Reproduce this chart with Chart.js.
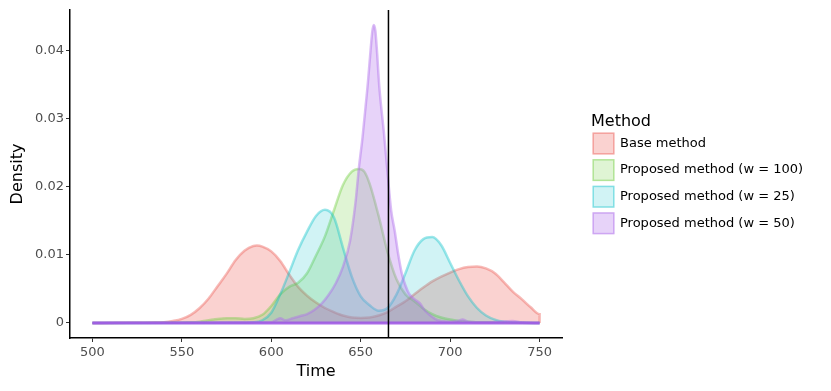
<!DOCTYPE html>
<html>
<head>
<meta charset="utf-8">
<script src="https://cdn.jsdelivr.net/npm/chart.js@4/dist/chart.umd.min.js"></script>
<style>
html,body{margin:0;padding:0;background:#fff;}
#wrap{width:831px;height:391px;}
</style>
</head>
<body>
<div id="wrap"><canvas id="c" width="831" height="391"></canvas></div>
<script>
// ---- data ----
const seriesNames = ['Base method', 'Proposed method (w = 100)', 'Proposed method (w = 25)', 'Proposed method (w = 50)'];

const baseTime = [500,520,535,540,545,550,555,560,565,570,575,580,585,590,592,595,600,605,610,615,620,625,630,635,640,645,650,655,660,665,670,675,680,685,690,695,700,705,710,715,720,725,730,735,740,745,750,750];
const baseDensity = [0,0.00002,0.00006,0.00012,0.0003,0.0006,0.0012,0.0022,0.0036,0.0054,0.0072,0.0092,0.0106,0.0113,0.01135,0.0112,0.0105,0.0091,0.0071,0.0053,0.0040,0.0030,0.0022,0.0016,0.0011,0.0008,0.00075,0.0008,0.0011,0.0016,0.0024,0.0032,0.0042,0.0052,0.0061,0.0068,0.0074,0.0079,0.0082,0.0083,0.0080,0.0073,0.0060,0.0046,0.0035,0.0023,0.0013,0];

const w100Time = [500,540,555,560,565,570,575,580,585,590,595,600,605,610,615,620,625,630,635,640,645,649,652,655,660,665,670,675,680,685,690,695,700,705,710,720,750,750];
const w100Density = [0,0.00002,0.0001,0.0002,0.0004,0.0006,0.0007,0.0007,0.0006,0.0007,0.0012,0.0025,0.0042,0.0053,0.0059,0.0073,0.0099,0.0127,0.0165,0.0202,0.0222,0.0226,0.0222,0.0204,0.0157,0.0104,0.0064,0.0042,0.0032,0.0021,0.0013,0.0008,0.0005,0.0003,0.0002,0.0001,0,0];

const w25Time = [500,580,590,595,600,605,610,615,620,625,630,635,640,645,650,655,660,665,670,675,680,685,690,695,700,705,710,715,720,725,730,740,750,750];
const w25Density = [0,0.00002,0.0001,0.0004,0.0015,0.0042,0.0074,0.0107,0.0134,0.0157,0.0166,0.0155,0.0111,0.0068,0.0039,0.0026,0.0018,0.0022,0.0042,0.0073,0.0106,0.0123,0.0126,0.0114,0.0088,0.0062,0.0039,0.0022,0.0011,0.0005,0.0002,0.00005,0,0];

const w50Time = [500,540,600,603,605,608,612,616,620,624,628,632,636,640,644,647,649,651,653,654,655.5,656.5,657.3,658.2,659,660.4,663,665,667,669,671,673,675,677,680,683,686,689,693,700,704,707,710,720,735,740,750,750];
const w50Density = [0,0.00005,0.0001,0.0005,0.0007,0.0004,0.0007,0.0010,0.0013,0.0019,0.0028,0.0041,0.0058,0.0082,0.0120,0.0175,0.0228,0.0272,0.0325,0.0352,0.0400,0.0428,0.0437,0.0428,0.0402,0.0346,0.0278,0.0220,0.0165,0.0135,0.0100,0.0072,0.0055,0.0043,0.0035,0.0029,0.0018,0.0011,0.0004,0.0002,0.0003,0.0005,0.0002,0.0001,0.0003,0.0001,0,0];

const baselineTime = [500, 750];
const baselineDensity = [0, 0];

const vlineTime = 665.5;

const xTicks = [500, 550, 600, 650, 700, 750];
const xTickLabels = ['500', '550', '600', '650', '700', '750'];
const yTicks = [0, 0.01, 0.02, 0.03, 0.04];
const yTickLabels = ['0', '0.01', '0.02', '0.03', '0.04'];

// ---- styling ----
const rgb = [[238,105,98],[110,205,60],[0,191,200],[175,110,235]];
const fillA = [0.3, 0.22, 0.18, 0.3];
const lineA = [0.45, 0.4, 0.38, 0.45];
const col = (c, a) => `rgba(${c[0]},${c[1]},${c[2]},${a})`;

const toPts = (ts, ds) => ts.map((t, i) => ({x: t, y: ds[i]}));
const seriesData = [
  toPts(baseTime, baseDensity),
  toPts(w100Time, w100Density),
  toPts(w25Time, w25Density),
  toPts(w50Time, w50Density)
];

const datasets = seriesData.map((d, i) => ({
  label: seriesNames[i],
  data: d,
  fill: 'origin',
  backgroundColor: col(rgb[i], fillA[i]),
  borderColor: col(rgb[i], lineA[i]),
  borderWidth: 2.5,
  pointRadius: 0,
  cubicInterpolationMode: 'monotone',
  order: 4 - i,
  isSeries: true
}));
datasets.push({
  label: 'baseline',
  data: toPts(baselineTime, baselineDensity),
  fill: false,
  borderColor: 'rgba(160,90,228,0.9)',
  borderWidth: 3,
  pointRadius: 0,
  order: 0,
  isSeries: false
});

const font = 'DejaVu Sans';

const extras = {
  id: 'extras',
  afterDatasetsDraw(chart) {
    const {ctx, chartArea, scales} = chart;
    const x = scales.x.getPixelForValue(vlineTime);
    ctx.save();
    ctx.strokeStyle = '#000';
    ctx.lineWidth = 1.5;
    ctx.beginPath();
    ctx.moveTo(x, chartArea.top);
    ctx.lineTo(x, chartArea.bottom);
    ctx.stroke();
    ctx.restore();
  },
  afterDraw(chart) {
    const {ctx} = chart;
    ctx.save();
    ctx.fillStyle = '#000';
    ctx.font = `16px "${font}"`;
    ctx.textBaseline = 'middle';
    ctx.textAlign = 'left';
    ctx.fillText('Method', 591, 122);
    ctx.font = `13px "${font}"`;
    chart.data.datasets.filter(d => d.isSeries).forEach((d, i) => {
      const cy = 143.5 + i * 26.6;
      ctx.fillStyle = '#fff';
      ctx.fillRect(592.5, cy - 11, 22, 22);
      ctx.fillStyle = d.backgroundColor;
      ctx.fillRect(592.5, cy - 11, 22, 22);
      ctx.strokeStyle = d.borderColor;
      ctx.lineWidth = 1.5;
      ctx.strokeRect(593.25, cy - 10.25, 20.5, 20.5);
      ctx.fillStyle = '#000';
      ctx.fillText(d.label, 620, cy);
    });
    ctx.restore();
  }
};

new Chart(document.getElementById('c'), {
  type: 'line',
  data: {datasets},
  options: {
    responsive: false,
    animation: false,
    devicePixelRatio: 1,
    layout: {padding: {top: 10, right: 269, bottom: 0, left: 0}},
    plugins: {legend: {display: false}, tooltip: {enabled: false}},
    elements: {line: {tension: 0}},
    scales: {
      x: {
        type: 'linear',
        min: 487.5,
        max: 762.5,
        afterBuildTicks: s => { s.ticks = xTicks.map(v => ({value: v})); },
        afterFit: s => { s.height = 53; },
        ticks: {
          autoSkip: false, maxRotation: 0, padding: 3,
          color: '#4D4D4D', font: {family: font, size: 13},
          callback: (v, i) => xTickLabels[i]
        },
        grid: {drawOnChartArea: false, drawTicks: true, tickLength: 4, color: '#333', lineWidth: 1},
        border: {display: true, color: '#000', width: 1.5},
        title: {display: true, text: 'Time', color: '#000', font: {family: font, size: 16}, padding: {top: 0, bottom: 10}}
      },
      y: {
        type: 'linear',
        min: -0.0022,
        max: 0.0459,
        afterBuildTicks: s => { s.ticks = yTicks.map(v => ({value: v})); },
        afterFit: s => { s.width = 70; },
        ticks: {
          autoSkip: false, padding: 2,
          color: '#4D4D4D', font: {family: font, size: 13},
          callback: (v, i) => yTickLabels[i]
        },
        grid: {drawOnChartArea: false, drawTicks: true, tickLength: 4, color: '#333', lineWidth: 1},
        border: {display: true, color: '#000', width: 1.5},
        title: {display: true, text: 'Density', color: '#000', font: {family: font, size: 16}, padding: {top: 8, bottom: 0}}
      }
    }
  },
  plugins: [extras]
});
</script>
</body>
</html>
